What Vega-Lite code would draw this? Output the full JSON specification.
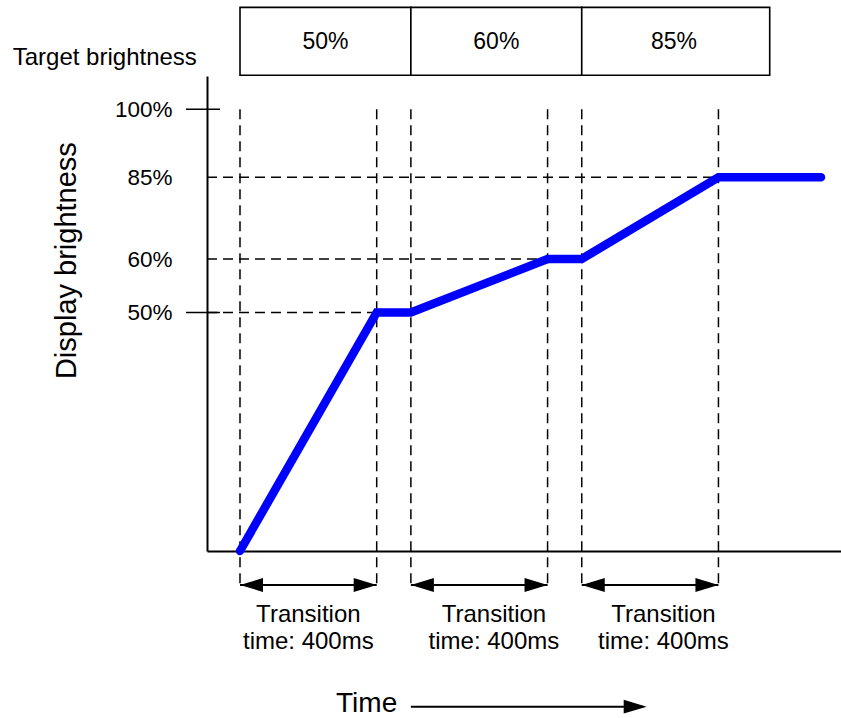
{
  "$schema": "https://vega.github.io/schema/vega-lite/v6.json",
  "width": 634,
  "height": 475,
  "autosize": {"type": "none"},
  "padding": {"left": 207, "top": 76, "right": 0, "bottom": 167},
  "background": "white",
  "config": {
    "view": {"stroke": null},
    "font": "Liberation Sans",
    "text": {"font": "Liberation Sans", "color": "black"}
  },
  "datasets": {
    "curve": [
      {"t": 0, "v": 0}, {"t": 400, "v": 50}, {"t": 500, "v": 50}, {"t": 900, "v": 60},
      {"t": 1000, "v": 60}, {"t": 1400, "v": 85}, {"t": 1700, "v": 85}
    ],
    "hguides": [
      {"t": -96.56, "t2": 1400, "v": 85},
      {"t": -96.56, "t2": 1000, "v": 60},
      {"t": -96.56, "t2": 400, "v": 50}
    ],
    "vguides": [
      {"t": 0, "v": 100, "v2": -7}, {"t": 400, "v": 100, "v2": -7}, {"t": 500, "v": 100, "v2": -7},
      {"t": 900, "v": 100, "v2": -7}, {"t": 1000, "v": 100, "v2": -7}, {"t": 1400, "v": 100, "v2": -7}
    ],
    "ticks": [
      {"t": -158, "t2": -58.5, "v": 100},
      {"t": -158, "t2": -58.5, "v": 50}
    ],
    "boxes": [
      {"t": 0, "t2": 500, "v": 107.5, "v2": 122.5},
      {"t": 500, "t2": 1000, "v": 107.5, "v2": 122.5},
      {"t": 1000, "t2": 1550, "v": 107.5, "v2": 122.5}
    ],
    "boxlabels": [
      {"t": 250, "v": 114.9, "label": "50%"},
      {"t": 750, "v": 114.9, "label": "60%"},
      {"t": 1270, "v": 114.9, "label": "85%"}
    ],
    "translabels": [
      {"t": 200, "v": -14.8, "label": "Transition"},
      {"t": 200, "v": -20.5, "label": "time: 400ms"},
      {"t": 743, "v": -14.8, "label": "Transition"},
      {"t": 743, "v": -20.5, "label": "time: 400ms"},
      {"t": 1239, "v": -14.8, "label": "Transition"},
      {"t": 1239, "v": -20.5, "label": "time: 400ms"}
    ],
    "shafts": [
      {"t": 0, "t2": 400, "v": -7.13},
      {"t": 500, "t2": 900, "v": -7.13},
      {"t": 1000, "t2": 1400, "v": -7.13},
      {"t": 500, "t2": 1180, "v": -32.64}
    ],
    "heads": [
      {"t": 0, "v": -7.13, "dir": "left"}, {"t": 400, "v": -7.13, "dir": "right"},
      {"t": 500, "v": -7.13, "dir": "left"}, {"t": 900, "v": -7.13, "dir": "right"},
      {"t": 1000, "v": -7.13, "dir": "left"}, {"t": 1400, "v": -7.13, "dir": "right"},
      {"t": 1190, "v": -32.64, "dir": "right"}
    ],
    "target": [{"t": -665, "v": 109.77, "label": "Target brightness"}],
    "ytitle": [{"t": -480, "v": 59.7, "label": "Display brightness"}],
    "xtitle": [{"t": 281, "v": -33.69, "label": "Time"}]
  },
  "encoding": {
    "x": {
      "field": "t", "type": "quantitative",
      "scale": {"domain": [-96.56, 1758.6], "nice": false, "zero": false},
      "axis": {"ticks": false, "labels": false, "grid": false, "title": null, "domainColor": "black", "domainWidth": 2}
    },
    "y": {
      "field": "v", "type": "quantitative",
      "scale": {"domain": [0, 50, 60, 85, 100, 107.35], "range": [475, 236.5, 183, 101.3, 33.3, 0], "nice": false, "zero": false},
      "axis": {
        "values": [50, 60, 85, 100], "labelExpr": "datum.value + '%'", "ticks": false, "grid": false,
        "title": null, "domainColor": "black", "domainWidth": 2, "labelFontSize": 22.5,
        "labelColor": "black", "labelFont": "Liberation Sans", "labelPadding": 35
      }
    }
  },
  "layer": [
    {
      "data": {"name": "hguides"},
      "mark": {"type": "rule", "color": "black", "strokeWidth": 1.5, "strokeDash": [10, 6]},
      "encoding": {"x2": {"field": "t2"}}
    },
    {
      "data": {"name": "vguides"},
      "mark": {"type": "rule", "color": "black", "strokeWidth": 1.5, "strokeDash": [10, 6]},
      "encoding": {"y2": {"field": "v2"}}
    },
    {
      "data": {"name": "ticks"},
      "mark": {"type": "rule", "color": "black", "strokeWidth": 1.5},
      "encoding": {"x2": {"field": "t2"}}
    },
    {
      "data": {"name": "boxes"},
      "mark": {"type": "rect", "fill": "white", "stroke": "black", "strokeWidth": 1.6},
      "encoding": {"x2": {"field": "t2"}, "y2": {"field": "v2"}}
    },
    {
      "data": {"name": "boxlabels"},
      "mark": {"type": "text", "fontSize": 23, "align": "center", "baseline": "middle"},
      "encoding": {"text": {"field": "label"}}
    },
    {
      "data": {"name": "curve"},
      "mark": {"type": "line", "color": "#0000ff", "strokeWidth": 8.5, "strokeCap": "round", "clip": false},
      "encoding": {"order": {"field": "t"}}
    },
    {
      "data": {"name": "shafts"},
      "mark": {"type": "rule", "color": "black", "strokeWidth": 2},
      "encoding": {"x2": {"field": "t2"}}
    },
    {
      "data": {"name": "heads"},
      "mark": {"type": "point", "filled": true, "color": "black", "opacity": 1, "size": 529, "strokeWidth": 0},
      "encoding": {
        "shape": {"field": "dir", "type": "nominal", "legend": null,
          "scale": {"domain": ["left", "right"], "range": ["M0,0L2,-0.6L2,0.6Z", "M0,0L-2,-0.6L-2,0.6Z"]}}
      }
    },
    {
      "data": {"name": "translabels"},
      "mark": {"type": "text", "fontSize": 24, "align": "center", "baseline": "alphabetic"},
      "encoding": {"text": {"field": "label"}}
    },
    {
      "data": {"name": "target"},
      "mark": {"type": "text", "fontSize": 24, "align": "left", "baseline": "alphabetic"},
      "encoding": {"text": {"field": "label"}}
    },
    {
      "data": {"name": "ytitle"},
      "mark": {"type": "text", "fontSize": 29, "align": "center", "baseline": "alphabetic", "angle": 270},
      "encoding": {"text": {"field": "label"}}
    },
    {
      "data": {"name": "xtitle"},
      "mark": {"type": "text", "fontSize": 28, "align": "left", "baseline": "alphabetic"},
      "encoding": {"text": {"field": "label"}}
    }
  ]
}
